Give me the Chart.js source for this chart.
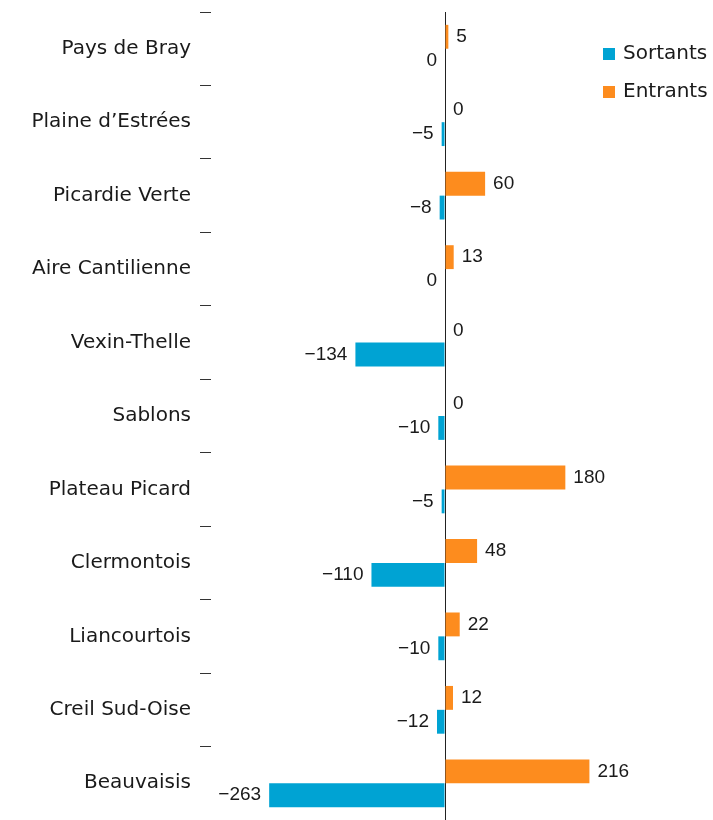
<!DOCTYPE html>
<html>
<head>
<meta charset="utf-8">
<script src="https://cdn.jsdelivr.net/npm/chart.js@4"></script>
<style>
  html, body { margin: 0; padding: 0; background: #fff; }
  #wrap { width: 713px; height: 820px; }
</style>
</head>
<body>
<div id="wrap"><canvas id="chart"></canvas></div>
<script>
const categories = ['Pays de Bray', 'Plaine d\u2019Estrées', 'Picardie Verte', 'Aire Cantilienne', 'Vexin-Thelle',
  'Sablons', 'Plateau Picard', 'Clermontois', 'Liancourtois', 'Creil Sud-Oise', 'Beauvaisis'];
const entrants = [5, 0, 60, 13, 0, 0, 180, 48, 22, 12, 216];
const sortants = [0, -5, -8, 0, -134, -10, -5, -110, -10, -12, -263];

const BLUE = '#00a3d3';
const ORANGE = '#fd8c1e';
const catFont = "'DejaVu Sans', sans-serif";
const numFont = "'Liberation Sans', Arial, sans-serif";

function fmt(v) {
  return v < 0 ? '\u2212' + Math.abs(v) : String(v);
}

// value labels next to bar ends
const valueLabels = {
  id: 'valueLabels',
  afterDatasetsDraw(chart) {
    const ctx = chart.ctx;
    ctx.save();
    ctx.font = '19px ' + numFont;
    ctx.fillStyle = '#1a1a1a';
    ctx.textBaseline = 'middle';
    chart.data.datasets.forEach((ds, di) => {
      const meta = chart.getDatasetMeta(di);
      meta.data.forEach((bar, i) => {
        const v = ds.data[i];
        if (ds.label === 'Entrants') {
          ctx.textAlign = 'left';
          ctx.fillText(fmt(v), bar.x + 8, bar.y);
        } else {
          ctx.textAlign = 'right';
          ctx.fillText(fmt(v), bar.x - 8, bar.y);
        }
      });
    });
    ctx.restore();
  }
};

// legend in the upper right corner, Sortants first
const cornerLegend = {
  id: 'cornerLegend',
  afterDraw(chart) {
    const ctx = chart.ctx;
    ctx.save();
    ctx.font = '20px ' + catFont;
    ctx.textBaseline = 'middle';
    ctx.textAlign = 'left';
    const items = chart.data.datasets.slice().reverse();
    items.forEach((ds, i) => {
      const y = 54 + i * 38;
      ctx.fillStyle = ds.backgroundColor;
      ctx.fillRect(603, y - 6, 12, 12);
      ctx.fillStyle = '#1a1a1a';
      ctx.fillText(ds.label, 623, y);
    });
    ctx.restore();
  }
};

new Chart(document.getElementById('chart'), {
  type: 'bar',
  data: {
    labels: categories,
    datasets: [
      { label: 'Entrants', data: entrants, backgroundColor: ORANGE },
      { label: 'Sortants', data: sortants, backgroundColor: BLUE }
    ]
  },
  options: {
    indexAxis: 'y',
    responsive: true,
    maintainAspectRatio: false,
    animation: false,
    categoryPercentage: 0.65,
    barPercentage: 1.0,
    layout: { padding: { top: 12, right: 34, bottom: 0, left: 0 } },
    plugins: {
      legend: { display: false },
      tooltip: { enabled: false }
    },
    scales: {
      x: {
        min: -350,
        max: 350,
        ticks: { display: false, stepSize: 350 },
        border: { display: false },
        grid: {
          drawTicks: false,
          color: c => c.tick && c.tick.value === 0 ? '#222' : 'rgba(0,0,0,0)',
          lineWidth: 1
        },
        afterFit(scale) { scale.height = 0; }
      },
      y: {
        border: { display: false },
        grid: {
          offset: true,
          drawOnChartArea: false,
          drawTicks: true,
          tickLength: 11,
          color: '#333'
        },
        ticks: {
          padding: 9,
          color: '#1a1a1a',
          font: { family: catFont, size: 20 }
        },
        afterFit(scale) {
          scale.width = 211;
          scale.paddingTop = 0;
          scale.paddingBottom = 0;
        }
      }
    }
  },
  plugins: [valueLabels, cornerLegend]
});
</script>
</body>
</html>
